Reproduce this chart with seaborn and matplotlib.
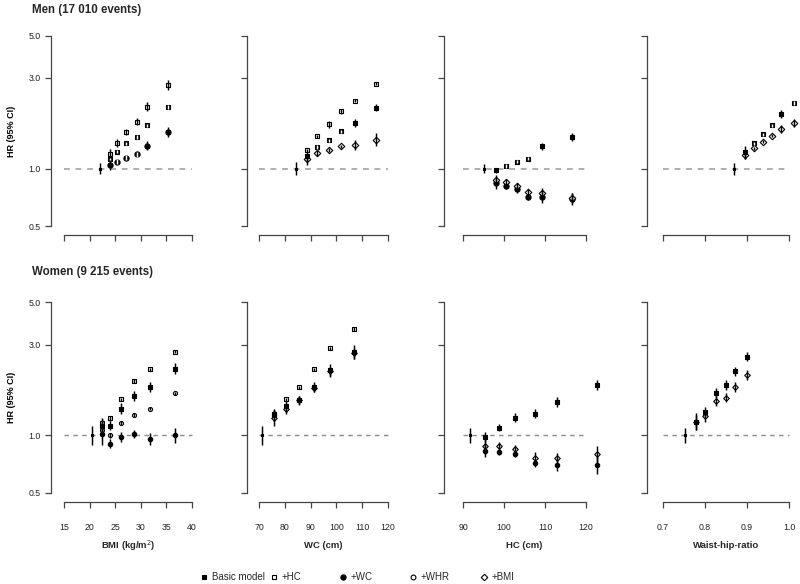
import numpy as np
import pandas as pd
import matplotlib
matplotlib.use("Agg")
import matplotlib.pyplot as plt
import matplotlib.transforms as mtransforms
from matplotlib.lines import Line2D
import seaborn as sns

# ---------------- data ----------------
ROW_TITLES = ["Men (17 010 events)", "Women (9 215 events)"]
X_LABELS = ["BMI (kg/m$^2$)", "WC (cm)", "HC (cm)", "Waist-hip-ratio"]
Y_LABEL = "HR (95% CI)"
Y_TICKS = [0.5, 1.0, 3.0, 5.0]
Y_TICKLABELS = ["0.5", "1.0", "3.0", "5.0"]

BMI_TICKS = [15, 20, 25, 30, 35, 40]
WC_TICKS = [70, 80, 90, 100, 110, 120]
HC_TICKS = [90, 100, 110, 120]
WHR_TICKS = [0.7, 0.8, 0.9, 1.0]
WHR_TICKLABELS = ["0.7", "0.8", "0.9", "1.0"]

LEGEND_LABELS = ["Basic model", "+HC", "+WC", "+WHR", "+BMI"]

# Men, BMI
M_BMI_REF = (22.0, 1.07)
M_BMI_X = [24.0, 25.4, 27.2, 29.2, 31.3, 35.4]
M_BMI_BASIC = [1.12, 1.23, 1.36, 1.47, 1.69, 2.10]
M_BMI_BASIC_EF = [1.02, 1.02, 1.02, 1.02, 1.022, 1.025]
M_BMI_HC = [1.19, 1.36, 1.56, 1.77, 2.12, 2.76]
M_BMI_HC_EF = [1.066, 1.05, 1.04, 1.04, 1.06, 1.063]
M_BMI_WC = [1.05, 1.09, 1.14, 1.19, 1.32, 1.56]
M_BMI_WC_EF = [1.06, 1.035, 1.03, 1.035, 1.055, 1.06]

# Men, WC
M_WC_REF = (84.2, 1.08)
M_WC_X = [88.7, 92.6, 97.0, 101.8, 107.3, 115.3]
M_WC_BASIC = [1.16, 1.30, 1.41, 1.57, 1.74, 2.09]
M_WC_BASIC_EF = [1.05, 1.02, 1.02, 1.02, 1.05, 1.045]
M_WC_HC = [1.25, 1.48, 1.71, 2.00, 2.28, 2.80]
M_WC_HC_EF = [1.02, 1.02, 1.04, 1.035, 1.02, 1.02]
M_WC_BMI = [1.12, 1.21, 1.256, 1.31, 1.34, 1.42]
M_WC_BMI_EF = [1.073, 1.035, 1.02, 1.02, 1.063, 1.08]

# Men, HC
M_HC_REF = (95.2, 1.055)
M_HC_X = [98.0, 100.4, 103.1, 105.8, 109.3, 116.6]
M_HC_BASIC = [0.98, 1.035, 1.09, 1.13, 1.31, 1.47]
M_HC_BASIC_EF = [1.035, 1.02, 1.02, 1.02, 1.04, 1.047]
M_HC_BMI = [0.87, 0.852, 0.81, 0.752, 0.75, 0.70]
M_HC_BMI_EF = [1.06, 1.035, 1.035, 1.035, 1.05, 1.06]
M_HC_WC = [0.84, 0.81, 0.78, 0.71, 0.71, 0.693]
M_HC_WC_EF = [1.07, 1.04, 1.04, 1.04, 1.07, 1.07]

# Men, WHR
M_WHR_REF = (0.868, 1.075)
M_WHR_X = [0.896, 0.917, 0.937, 0.959, 0.982, 1.012]
M_WHR_BASIC = [1.22, 1.36, 1.52, 1.69, 1.94, 2.22]
M_WHR_BASIC_EF = [1.08, 1.02, 1.02, 1.02, 1.05, 1.02]
M_WHR_BMI = [1.18, 1.28, 1.39, 1.49, 1.62, 1.74]
M_WHR_BMI_EF = [1.05, 1.02, 1.02, 1.02, 1.05, 1.05]

# Women, BMI
W_BMI_REF = (20.5, 1.12)
W_BMI_X = [22.4, 24.0, 26.1, 28.7, 31.7, 36.7]
W_BMI_BASIC = [1.12, 1.125, 1.38, 1.61, 1.80, 2.24]
W_BMI_BASIC_EF = [1.09, 1.052, 1.066, 1.056, 1.062, 1.067]
W_BMI_HC = [1.16, 1.23, 1.55, 1.93, 2.22, 2.75]
W_BMI_HC_EF = [1.06, 1.03, 1.02, 1.02, 1.02, 1.02]
W_BMI_WHR = [1.07, 1.00, 1.16, 1.28, 1.38, 1.66]
W_BMI_WHR_EF = [1.05, 1.03, 1.02, 1.02, 1.02, 1.02]
W_BMI_WC = [1.02, 0.903, 0.986, 1.02, 0.96, 1.00]
W_BMI_WC_EF = [1.15, 1.058, 1.062, 1.048, 1.077, 1.10]

# Women, WC
W_WC_REF = (71.3, 1.12)
W_WC_X = [75.9, 80.3, 85.4, 91.2, 97.6, 106.7]
W_WC_BASIC = [1.28, 1.42, 1.53, 1.79, 2.20, 2.73]
W_WC_BASIC_EF = [1.07, 1.066, 1.056, 1.062, 1.083, 1.088]
W_WC_HC = [1.30, 1.55, 1.79, 2.22, 2.86, 3.62]
W_WC_HC_EF = [1.04, 1.02, 1.02, 1.02, 1.02, 1.02]
W_WC_BMI = [1.23, 1.38, 1.53, 1.77, 2.17, 2.70]
W_WC_BMI_EF = [1.1, 1.06, 1.05, 1.05, 1.06, 1.07]

# Women, HC
W_HC_REF = (91.8, 1.09)
W_HC_X = [95.3, 98.7, 102.7, 107.5, 112.9, 122.8]
W_HC_BASIC = [0.975, 1.10, 1.24, 1.30, 1.50, 1.84]
W_HC_BASIC_EF = [1.07, 1.046, 1.052, 1.052, 1.062, 1.062]
W_HC_BMI = [0.881, 0.88, 0.847, 0.765, 0.765, 0.797]
W_HC_BMI_EF = [1.10, 1.05, 1.045, 1.073, 1.06, 1.10]
W_HC_WC = [0.83, 0.817, 0.80, 0.718, 0.698, 0.70]
W_HC_WC_EF = [1.08, 1.04, 1.04, 1.05, 1.08, 1.12]

# Women, WHR
W_WHR_REF = (0.753, 1.10)
W_WHR_X = [0.778, 0.801, 0.826, 0.850, 0.871, 0.901]
W_WHR_BASIC = [1.18, 1.33, 1.67, 1.84, 2.17, 2.59]
W_WHR_BASIC_EF = [1.105, 1.06, 1.06, 1.057, 1.054, 1.058]
W_WHR_BMI = [1.17, 1.26, 1.52, 1.58, 1.80, 2.07]
W_WHR_BMI_EF = [1.09, 1.07, 1.06, 1.057, 1.062, 1.062]

# ---------------- style / layout ----------------
sns.set_theme(style="ticks")
plt.rcParams["font.family"] = ["Liberation Sans", "DejaVu Sans"]

FW, FH = 800, 584
PANEL_LEFT = [51, 247, 444, 647]
PANEL_W = 150
TICK_PX = [(64, 192), (259, 388), (463, 586), (663, 789)]
ROW_PX = [(35.8, 226.0), (302.3, 492.7)]
ROW_SCALE = [1.0, 0.85]
AX_COLOR = "#444444"

STYLE = {
    "basic": dict(marker="s", filled=True, size=5.0),
    "hc": dict(marker="s", filled=False, size=4.8),
    "wc": dict(marker="o", filled=True, size=5.2),
    "whr": dict(marker="o", filled=False, size=4.8),
    "bmi": dict(marker="D", filled=False, size=4.6),
}
MODEL_KEYS = ["basic", "hc", "wc", "whr", "bmi"]

TICKS = [BMI_TICKS, WC_TICKS, HC_TICKS, WHR_TICKS]
TICKLABELS = [[str(t) for t in BMI_TICKS], [str(t) for t in WC_TICKS],
              [str(t) for t in HC_TICKS], WHR_TICKLABELS]

PANELS = [
    [
        (M_BMI_REF, M_BMI_X, [("hc", M_BMI_HC, M_BMI_HC_EF), ("basic", M_BMI_BASIC, M_BMI_BASIC_EF),
                              ("wc", M_BMI_WC, M_BMI_WC_EF)]),
        (M_WC_REF, M_WC_X, [("hc", M_WC_HC, M_WC_HC_EF), ("bmi", M_WC_BMI, M_WC_BMI_EF),
                            ("basic", M_WC_BASIC, M_WC_BASIC_EF)]),
        (M_HC_REF, M_HC_X, [("wc", M_HC_WC, M_HC_WC_EF), ("bmi", M_HC_BMI, M_HC_BMI_EF),
                            ("basic", M_HC_BASIC, M_HC_BASIC_EF)]),
        (M_WHR_REF, M_WHR_X, [("bmi", M_WHR_BMI, M_WHR_BMI_EF), ("basic", M_WHR_BASIC, M_WHR_BASIC_EF)]),
    ],
    [
        (W_BMI_REF, W_BMI_X, [("hc", W_BMI_HC, W_BMI_HC_EF), ("whr", W_BMI_WHR, W_BMI_WHR_EF),
                              ("basic", W_BMI_BASIC, W_BMI_BASIC_EF), ("wc", W_BMI_WC, W_BMI_WC_EF)]),
        (W_WC_REF, W_WC_X, [("hc", W_WC_HC, W_WC_HC_EF), ("bmi", W_WC_BMI, W_WC_BMI_EF),
                            ("basic", W_WC_BASIC, W_WC_BASIC_EF)]),
        (W_HC_REF, W_HC_X, [("wc", W_HC_WC, W_HC_WC_EF), ("bmi", W_HC_BMI, W_HC_BMI_EF),
                            ("basic", W_HC_BASIC, W_HC_BASIC_EF)]),
        (W_WHR_REF, W_WHR_X, [("bmi", W_WHR_BMI, W_WHR_BMI_EF), ("basic", W_WHR_BASIC, W_WHR_BASIC_EF)]),
    ],
]

fig = plt.figure(figsize=(FW / 100, FH / 100), dpi=100)


def draw_series(ax, x, hr, ef, key, scale, ppd):
    st = STYLE[key]
    size_px = st["size"] * scale
    size_pt = size_px * 0.72
    x = np.asarray(x, float)
    hr = np.asarray(hr, float)
    ef = np.asarray(ef, float)
    df = pd.DataFrame({"x": x, "hr": hr})
    sns.scatterplot(data=df, x="x", y="hr", marker=st["marker"], s=size_pt ** 2,
                    color="black" if st["filled"] else "white", edgecolor="black",
                    linewidth=0.8, ax=ax, zorder=3, clip_on=False, legend=False)
    half_ci = ppd * np.log10(ef)
    cols = ["white" if (st["filled"] and h <= size_px / 2 + 0.3) else "black" for h in half_ci]
    ax.vlines(x, hr / ef, hr * ef, colors=cols, lw=1.05, zorder=4, clip_on=False)


for r in range(2):
    ytop, ybot = ROW_PX[r]
    ppd = ybot - ytop  # pixels per decade (0.5 -> 5)
    for c in range(4):
        L = PANEL_LEFT[c]
        ax = fig.add_axes([L / FW, 1 - ybot / FH, PANEL_W / FW, (ybot - ytop) / FH])
        ticks = TICKS[c]
        p0, p1 = TICK_PX[c]
        sc = (p1 - p0) / (ticks[-1] - ticks[0])
        ax.set_yscale("log")
        ref, xs, series = PANELS[r][c]

        ax.hlines(1.0, ticks[0], ticks[-1], colors=["#a8a8a8", "#8a8a8a"][r],
                  lw=[1.3, 1.0][r], linestyles=(0, (3.2, 3.2)), zorder=1)
        for key, hr, ef in series:
            draw_series(ax, xs, hr, ef, key, ROW_SCALE[r], ppd)
        # reference category
        draw_series(ax, [ref[0]], [1.0], [ref[1]], "basic", 0.5, ppd)

        ax.set_xlim(ticks[0] + (L - p0) / sc, ticks[0] + (L + PANEL_W - p0) / sc)
        ax.set_ylim(0.5, 5.0)
        ax.set_xlabel("")
        ax.set_ylabel("")
        ax.set_xticks(ticks)
        ax.set_yticks(Y_TICKS)
        ax.yaxis.set_minor_locator(matplotlib.ticker.NullLocator())
        ax.xaxis.set_minor_locator(matplotlib.ticker.NullLocator())
        if r == 1:
            ax.set_xticklabels(TICKLABELS[c])
        else:
            ax.set_xticklabels([])
        if c == 0:
            ax.set_yticklabels(Y_TICKLABELS)
            ax.set_ylabel(Y_LABEL, fontsize=6.5, fontweight="bold", color="black")
            ax.yaxis.set_label_coords(-(L - 16) / PANEL_W, 0.5)
        else:
            ax.set_yticklabels([])
        for s in ["top", "right"]:
            ax.spines[s].set_visible(False)
        ax.spines["left"].set_bounds(0.5, 5.0)
        ax.spines["bottom"].set_bounds(ticks[0], ticks[-1])
        ax.spines["bottom"].set_position(("outward", 6.5))
        for s in ["left", "bottom"]:
            ax.spines[s].set_color(AX_COLOR)
            ax.spines[s].set_linewidth(0.9)
        ax.tick_params(axis="both", direction="out", length=4.3, width=0.9,
                       color=AX_COLOR, labelsize=6.3, labelcolor="#222222")
        ax.tick_params(axis="x", pad=11)
        ax.tick_params(axis="y", pad=3)
        ax.patch.set_alpha(0)

        if r == 1:
            trans = mtransforms.blended_transform_factory(ax.transData, fig.transFigure)
            fig.text((ticks[0] + ticks[-1]) / 2, 1 - 546 / FH, X_LABELS[c], transform=trans,
                     ha="center", va="center", fontsize=6.8, fontweight="bold")

    fig.text(32 / FW, 1 - [10, 272][r] / FH, ROW_TITLES[r], ha="left", va="center",
             fontsize=8.3, fontweight="bold")

# legend: equally spaced entries
LEG_X = [204, 274, 343, 413, 484]
for key, lab, lx in zip(MODEL_KEYS, LEGEND_LABELS, LEG_X):
    st = STYLE[key]
    h = Line2D([], [], ls="none", marker=st["marker"], markersize=st["size"] * 0.72,
               markerfacecolor="black" if st["filled"] else "white",
               markeredgecolor="black", markeredgewidth=0.8)
    fig.legend(handles=[h], labels=[lab], loc="center left",
               bbox_to_anchor=((lx - 5) / FW, 1 - 577 / FH), frameon=False,
               fontsize=7.0, handlelength=1.0, handletextpad=0.3,
               borderpad=0, borderaxespad=0)

fig.savefig("out.png", dpi=100)
